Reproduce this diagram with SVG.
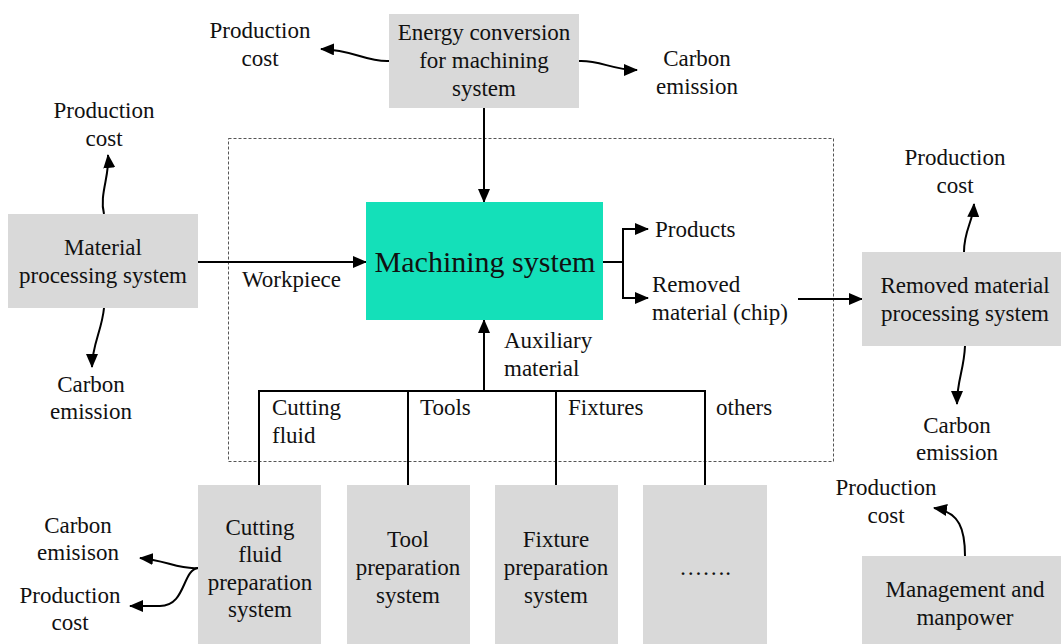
<svg xmlns="http://www.w3.org/2000/svg" width="1061" height="644" viewBox="0 0 1061 644">
  <style>
    .box { fill: #d9d9d9; }
    .main { fill: #14e0b9; }
    .t { font-family: "Liberation Serif", "Times New Roman", serif; font-size: 23px; fill: #111; }
    .c { text-anchor: middle; }
    .big { font-size: 30px; }
    .ln { fill: none; stroke: #000; stroke-width: 2; }
    .arr { marker-end: url(#head); }
    .frame { fill: none; stroke: #555; stroke-width: 1; stroke-dasharray: 3 2; }
  </style>
  <defs>
    <marker id="head" markerUnits="userSpaceOnUse" markerWidth="14" markerHeight="12" viewBox="0 0 14 12" refX="13" refY="6" orient="auto">
      <path d="M0,0 L14,6 L0,12 z" fill="#000"/>
    </marker>
  </defs>

  <rect width="1061" height="644" fill="#fff"/>

  <!-- system boundary -->
  <rect class="frame" x="228.5" y="138.5" width="605" height="323"/>

  <!-- connectors -->
  <g id="connectors">
    <path class="ln arr" d="M389,61 C365,62 355,50 321,49"/>
    <path class="ln arr" d="M579,61 C600,60 612,70 637,70"/>
    <path class="ln arr" d="M484,108 L484,202"/>
    <path class="ln arr" d="M104,214 C99,195 110,175 108,155"/>
    <path class="ln arr" d="M104,308 C102,330 92,345 92,367"/>
    <path class="ln arr" d="M198,262 L366,262"/>
    <path class="ln arr" d="M603,262 H623 V229 H648"/>
    <path class="ln arr" d="M623,262 V298 H648"/>
    <path class="ln arr" d="M798,299 L862,299"/>
    <path class="ln arr" d="M964,252 C964,230 973,222 974,204"/>
    <path class="ln arr" d="M965,346 C964,370 957,380 957,404"/>
    <path class="ln arr" d="M484,391 L484,320"/>
    <path class="ln" d="M259,485 V391 H705 V485 M408,391 V485 M556,391 V485"/>
    <path class="ln arr" d="M198,568 C180,570 165,560 140,558"/>
    <path class="ln arr" d="M198,568 C182,570 186,606 160,606 L130,606"/>
    <path class="ln arr" d="M965,556 C965,530 960,512 934,508"/>
  </g>

  <!-- connector labels -->
  <g id="labels">
    <text class="t c" x="260" y="38">Production</text>
    <text class="t c" x="260" y="66">cost</text>
    <text class="t c" x="697" y="66">Carbon</text>
    <text class="t c" x="697" y="94">emission</text>
    <text class="t c" x="104" y="118">Production</text>
    <text class="t c" x="104" y="146">cost</text>
    <text class="t c" x="91" y="392">Carbon</text>
    <text class="t c" x="91" y="419">emission</text>
    <text class="t" x="242" y="287">Workpiece</text>
    <text class="t" x="655" y="237">Products</text>
    <text class="t" x="652" y="292">Removed</text>
    <text class="t" x="652" y="320">material (chip)</text>
    <text class="t" x="504" y="348">Auxiliary</text>
    <text class="t" x="504" y="376">material</text>
    <text class="t" x="272" y="415">Cutting</text>
    <text class="t" x="272" y="443">fluid</text>
    <text class="t" x="420" y="415">Tools</text>
    <text class="t" x="568" y="415">Fixtures</text>
    <text class="t" x="716" y="415">others</text>
    <text class="t c" x="955" y="165">Production</text>
    <text class="t c" x="955" y="193">cost</text>
    <text class="t c" x="957" y="433">Carbon</text>
    <text class="t c" x="957" y="460">emission</text>
    <text class="t c" x="78" y="533">Carbon</text>
    <text class="t c" x="78" y="560">emisison</text>
    <text class="t c" x="70" y="603">Production</text>
    <text class="t c" x="70" y="630">cost</text>
    <text class="t c" x="886" y="495">Production</text>
    <text class="t c" x="886" y="523">cost</text>
  </g>

  <g id="energy">
    <rect class="box" x="389" y="14" width="190" height="94"/>
    <text class="t c" x="484" y="40">Energy conversion</text>
    <text class="t c" x="484" y="68">for machining</text>
    <text class="t c" x="484" y="96">system</text>
  </g>

  <g id="material">
    <rect class="box" x="8" y="214" width="190" height="94"/>
    <text class="t c" x="103" y="255">Material</text>
    <text class="t c" x="103" y="283">processing system</text>
  </g>

  <g id="machining">
    <rect class="main" x="366" y="202" width="237" height="118"/>
    <text class="t c big" x="485" y="272">Machining system</text>
  </g>

  <g id="removed">
    <rect class="box" x="862" y="252" width="199" height="94"/>
    <text class="t c" x="965" y="293">Removed material</text>
    <text class="t c" x="965" y="321">processing system</text>
  </g>

  <g id="cutting-fluid">
    <rect class="box" x="198" y="485" width="123" height="159"/>
    <text class="t c" x="260" y="535">Cutting</text>
    <text class="t c" x="260" y="562">fluid</text>
    <text class="t c" x="260" y="590">preparation</text>
    <text class="t c" x="260" y="617">system</text>
  </g>

  <g id="tool">
    <rect class="box" x="347" y="485" width="123" height="159"/>
    <text class="t c" x="408" y="547">Tool</text>
    <text class="t c" x="408" y="575">preparation</text>
    <text class="t c" x="408" y="603">system</text>
  </g>

  <g id="fixture">
    <rect class="box" x="495" y="485" width="123" height="159"/>
    <text class="t c" x="556" y="547">Fixture</text>
    <text class="t c" x="556" y="575">preparation</text>
    <text class="t c" x="556" y="603">system</text>
  </g>

  <g id="others">
    <rect class="box" x="643" y="485" width="124" height="159"/>
    <text class="t c" x="705" y="575">…….</text>
  </g>

  <g id="management">
    <rect class="box" x="862" y="556" width="199" height="88"/>
    <text class="t c" x="965" y="597">Management and</text>
    <text class="t c" x="965" y="625">manpower</text>
  </g>
</svg>
